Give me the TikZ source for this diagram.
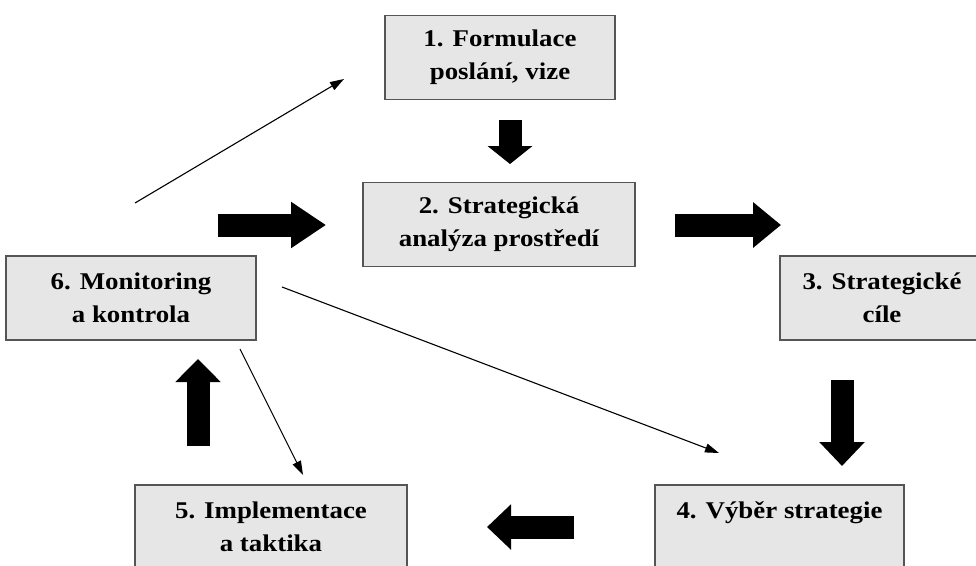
\documentclass[tikz,border=0pt]{standalone}
\usepackage{fontspec}
\setmainfont{Liberation Serif}[FakeStretch=1.12]
\usepackage{xcolor}
\usetikzlibrary{arrows.meta}
\definecolor{boxfill}{HTML}{E6E6E6}
\definecolor{boxline}{HTML}{555555}

\begin{document}
\begin{tikzpicture}[x=1pt, y=-1pt,
		krok/.style={draw=boxline, line width=1.4pt, fill=boxfill, minimum height=84pt,
			inner sep=0pt, align=center, font=\bfseries\fontsize{24}{33}\selectfont},
		sipka/.style={line width=23pt, -{Triangle[length=#1, width=44pt]}},
		sipka/.default=24pt,
		tenka/.style={line width=1.1pt, -{Triangle[length=14pt, width=9pt]}}]
			\useasboundingbox (0,0) rectangle (976,565);
			\clip (0,0) rectangle (976,565);
			
			% kroky procesu (šedé obdélníky)
			\node[krok, minimum width=230pt] (f1) at (500,57.5) {1. Formulace\\poslání, vize};
			\node[krok, minimum width=272pt] (f2) at (499,224.5) {2. Strategická\\analýza prostředí};
			\node[krok, minimum width=204pt] (f3) at (882,298) {3. Strategické\\cíle};
			\node[krok, minimum width=249pt] (f4) at (779.5,527) {4. Výběr strategie\\\vphantom{a}};
			\node[krok, minimum width=272pt] (f5) at (271,527) {5. Implementace\\a taktika};
			\node[krok, minimum width=250pt] (f6) at (131,298) {6. Monitoring\\a kontrola};
			
			% konce silných šipek
			\coordinate (a1) at (510,120);  \coordinate (b1) at (510,164);
			\coordinate (a2) at (218,225);  \coordinate (b2) at (326,225);
			\coordinate (a3) at (675,225);  \coordinate (b3) at (781,225);
			\coordinate (a4) at (842,380);  \coordinate (b4) at (842,466);
			\coordinate (a5) at (574,527);  \coordinate (b5) at (487,527);
			\coordinate (a6) at (198,446);  \coordinate (b6) at (198,359);
			
			% silné šipky mezi kroky
			\draw[sipka=18pt] (a1) -- (b1);
			\draw[sipka=35pt] (a2) -- (b2);
			\draw[sipka=28pt] (a3) -- (b3);
			\draw[sipka] (a4) -- (b4);
			\draw[sipka] (a5) -- (b5);
			\draw[sipka=23pt] (a6) -- (b6);
			
			% tenké šipky zpětné vazby
			\coordinate (m1) at (135,203);  \coordinate (n1) at (344,79);
			\coordinate (m2) at (282,287);  \coordinate (n2) at (719,453);
			\coordinate (m3) at (240,349);  \coordinate (n3) at (303,475);
			\draw[tenka] (m1) -- (n1);
			\draw[tenka] (m2) -- (n2);
			\draw[tenka] (m3) -- (n3);
		\end{tikzpicture}
\end{document}
